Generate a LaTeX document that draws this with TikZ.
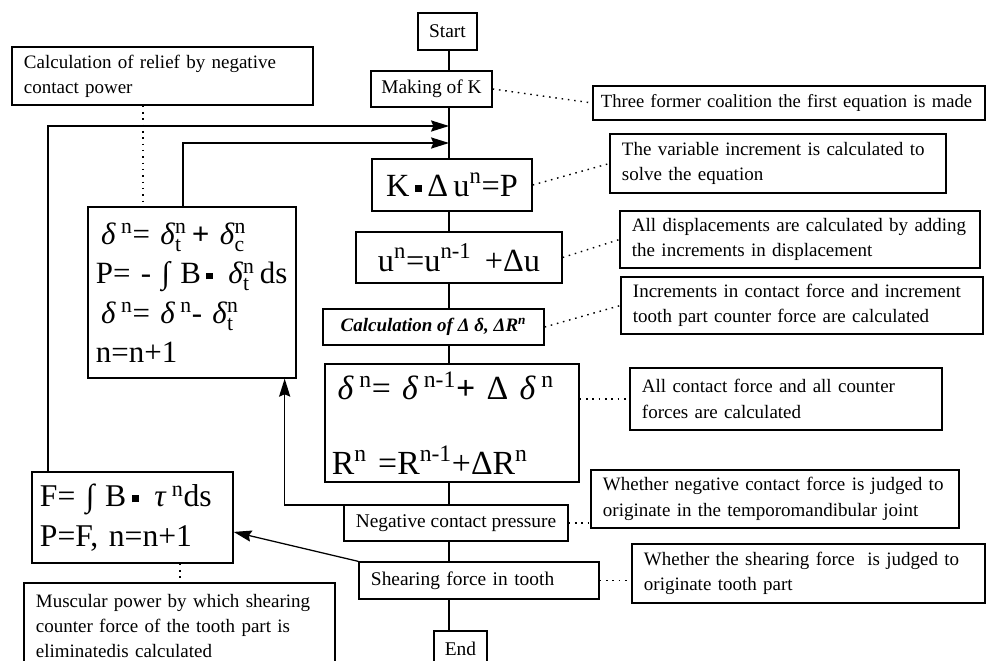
\documentclass[tikz,border=0pt]{standalone}
\usepackage{amsmath}
\usepackage{fontspec}
\setmainfont{Liberation Serif}
\usetikzlibrary{arrows.meta}
\newcommand{\sqd}{\raisebox{0.3ex}{\rule{0.22em}{0.22em}}}
\newcommand{\ddel}{\textit{δ}}
\newcommand{\sps}[2]{\ensuremath{^{\text{#1}}_{\text{#2}}}\,}

\begin{document}
\begin{tikzpicture}[x=0.025cm, y=-0.025cm, line width=0.9pt,
  every node/.style={draw, line width=0.9pt, inner sep=0pt},
  stepbox/.style={font=\fontsize{13.8}{16}\selectfont, align=center},
  eqbox/.style={font=\fontsize{23}{28}\selectfont, align=left},
  note/.style={font=\fontsize{13.5}{18}\selectfont, align=left, inner xsep=0.3cm},
  dotline/.style={line width=1pt, dash pattern=on 1.1pt off 3.4pt},
  flow/.style={-{Stealth[length=0.45cm,width=0.28cm,inset=0.06cm]}}]
  \useasboundingbox[fill=white] (0,0) rectangle (987,660);

  \node[stepbox, minimum width=1.475cm, minimum height=0.925cm] (start) at (447.5,31.5) {Start};
  \node[stepbox, minimum width=3.025cm, minimum height=0.9cm] (makek) at (431.5,89) {Making of K};
  \node[note, font=\fontsize{13.2}{18}\selectfont, text width=9.4cm, inner xsep=0.2cm, minimum height=0.85cm] (former) at (789,103)
    {Three former coalition the first equation is made};
  \node[note, text width=6.925cm, minimum height=1.45cm] (relief) at (162.5,76)
    {Calculation of relief by negative\\contact power};
  \node[eqbox, align=center, minimum width=4cm, minimum height=1.3cm] (kdu) at (452,185)
    {K\,\sqd\,Δ\,u\textsuperscript{n}=P};
  \node[note, text width=7.8cm, minimum height=1.475cm] (varinc) at (778,163.5)
    {The variable increment is calculated to\\solve the equation};
  \node[eqbox, font=\fontsize{22}{28}\selectfont, text width=4.8cm, inner xsep=0.2cm, minimum height=4.275cm] (dlt) at (192,292.5)
    {\,\ddel\,\textsuperscript{n}= \ddel\sps{n}{t}\textbf{+} \ddel\sps{n}{c}\\
     P= - ∫ B\,\sqd\, \ddel\sps{n}{t}ds\\
     \,\ddel\,\textsuperscript{n}= \ddel\,\textsuperscript{n}- \ddel\sps{n}{t}\\
     n=n+1};
  \node[eqbox, align=center, minimum width=5.15cm, minimum height=1.275cm] (un) at (459,257.5)
    {u\textsuperscript{n}=u\textsuperscript{n-1}\, +Δu};
  \node[note, text width=8.4cm, minimum height=1.425cm] (alldisp) at (800,239.5)
    {All displacements are calculated by adding\\the increments in displacement};
  \node[stepbox, font=\fontsize{13.5}{16}\selectfont\bfseries\itshape, minimum width=5.525cm, minimum height=0.9cm] (calc) at (433.5,327)
    {Calculation of Δ δ, ΔR\textsuperscript{n}};
  \node[note, text width=8.45cm, minimum height=1.425cm] (incr) at (802,305.5)
    {Increments in contact force and increment\\tooth part counter force are calculated};
  \node[eqbox, font=\fontsize{24}{29}\selectfont, text width=6.0cm, inner xsep=0.175cm, minimum height=2.95cm] (dR) at (452,423)
    {\,\ddel\,\textsuperscript{n}= \ddel\,\textsuperscript{n-1}\textbf{+} Δ \ddel\,\textsuperscript{n}\\[24pt]
     R\textsuperscript{n} =R\textsuperscript{n-1}+ΔR\textsuperscript{n}};
  \node[eqbox, font=\fontsize{22.5}{28}\selectfont, text width=4.625cm, inner xsep=0.2cm, minimum height=2.275cm] (fbox) at (132.5,517.5)
    {F= ∫ B\,\sqd\, \textit{τ}\,\textsuperscript{n}ds\\P=F, n=n+1};
  \node[note, text width=7.2cm, minimum height=1.55cm] (allcf) at (786,399)
    {All contact force and all counter\\forces are calculated};
  \node[stepbox, minimum width=5.6cm, minimum height=0.9cm] (neg) at (456,523) {Negative contact pressure};
  \node[note, text width=8.6cm, minimum height=1.45cm] (wneg) at (775,499)
    {Whether negative contact force is judged to\\originate in the temporomandibular joint};
  \node[stepbox, align=left, text width=5.4cm, inner xsep=0.3cm, minimum height=0.925cm] (shear) at (479,580.5)
    {Shearing force in tooth};
  \node[note, text width=8.225cm, minimum height=1.475cm] (wshear) at (808.5,573.5)
    {Whether the shearing force\ \ is judged to\\originate tooth part};
  \node[note, text width=7.175cm, minimum height=2.15cm] (musc) at (179.5,626)
    {Muscular power by which shearing\\counter force of the tooth part is\\eliminatedis calculated};
  \node[stepbox, minimum width=1.325cm, minimum height=0.9cm] (stop) at (460.5,649) {End};

  \coordinate (ax) at (449,0);
  \coordinate (j1) at (449,126);
  \coordinate (j2) at (449,143);
  \coordinate (j3) at (449,505);

  \draw (start.south -| ax) -- (makek.north -| ax);
  \draw (makek.south -| ax) -- (kdu.north -| ax);
  \draw (kdu.south -| ax) -- (un.north -| ax);
  \draw (un.south -| ax) -- (calc.north -| ax);
  \draw (calc.south -| ax) -- (dR.north -| ax);
  \draw (dR.south -| ax) -- (neg.north -| ax);
  \draw (neg.south -| ax) -- (shear.north -| ax);
  \draw (shear.south -| ax) -- (stop.north -| ax);

  \draw[flow] ([xshift=-2.11cm]fbox.north) |- (j1);
  \draw[flow] ([xshift=-0.225cm]dlt.north) |- (j2);
  \draw[flow] (j3) -| ([xshift=-0.3cm]dlt.south east);
  \draw[flow] (shear.north west) -- ([yshift=-0.36cm]fbox.east);

  \draw[dotline] (makek.east) -- (former.west);
  \draw[dotline] (kdu.east) -- (varinc.west);
  \draw[dotline] (un.east) -- (alldisp.west);
  \draw[dotline] (calc.east) -- (incr.west);
  \draw[dotline] (allcf.west -| dR.east) -- (allcf.west);
  \draw[dotline] (neg.east) -- (neg.east -| wneg.west);
  \draw[dotline] (shear.east) -- (shear.east -| wshear.west);
  \draw[dotline] ([xshift=-0.49cm]relief.south) -- ([xshift=-0.49cm]relief.south |- dlt.north);
  \draw[dotline] ([xshift=1.19cm]fbox.south) -- ([xshift=1.19cm]fbox.south |- musc.north);
\end{tikzpicture}
\end{document}
